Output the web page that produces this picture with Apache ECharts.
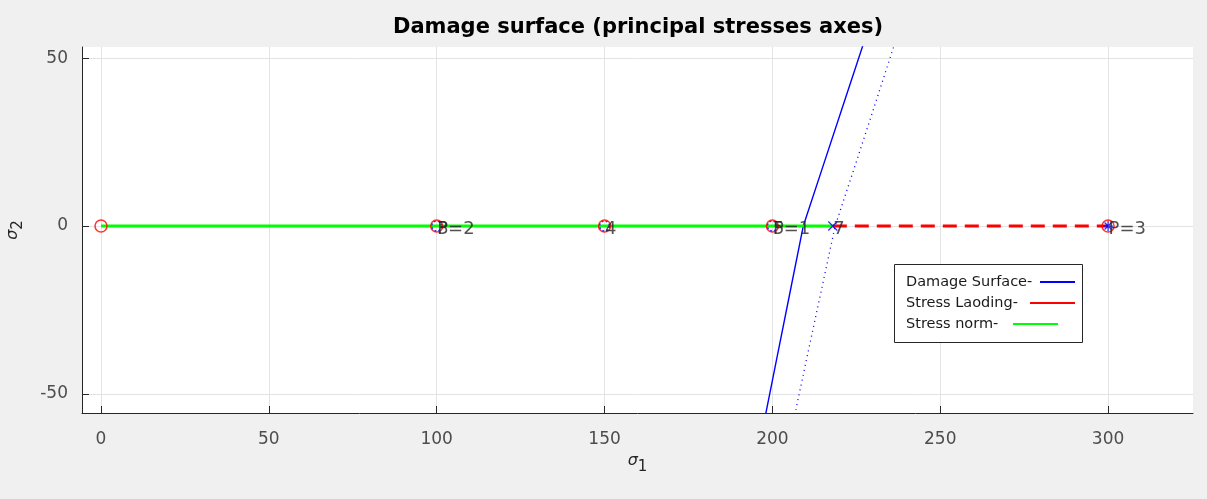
<!DOCTYPE html>
<html>
<head>
<meta charset="utf-8">
<script src="https://cdn.jsdelivr.net/npm/echarts@6/dist/echarts.min.js"></script>
<style>
html,body{margin:0;padding:0;background:#f0f0f0;}
#chart{width:1207px;height:499px;}
</style>
</head>
<body>
<div id="chart"></div>
<script>
// ---- data ----
const xTicks = [0, 50, 100, 150, 200, 250, 300];
const yTicks = [-50, 0, 50];
const normX = [0, 100, 150, 200, 218];
const normY = [0, 0, 0, 0, 0];
const loadX = [218, 300];
const loadY = [0, 0];
const surfY = [56, 40, 20, 0, -20, -40, -57];
const surfX = [227.7, 222.4, 215.8, 209.2, 205.2, 201.2, 197.8];
const surfOffX = [237.0, 231.8, 225.3, 218.7, 214.4, 210.1, 206.5];
const circleX = [0, 100, 150, 200, 300];
const blueCircleX = [100, 150, 200];
const crossX = [218];
const starX = [300];
const labelX = [100, 100, 150, 200, 200, 218, 300];
const labelText = ['P=2', '3', '4', 'P=1', '5', '7', 'P=3'];
const legendNames = ['Damage Surface-', 'Stress Laoding-', 'Stress norm-'];
const legendColors = ['#0000ff', '#ff0000', '#00ff00'];

const zip = (xs, ys) => xs.map((x, i) => [x, ys[i]]);
const onZero = xs => xs.map(x => [x, 0]);

const chart = echarts.init(document.getElementById('chart'), null, {renderer: 'canvas'});
const FONT = '"DejaVu Sans", Verdana, sans-serif';

const legendGraphics = [
  {type: 'rect', shape: {x: 894.5, y: 264.5, width: 188, height: 78}, style: {fill: '#ffffff', stroke: '#262626', lineWidth: 1}, z: 100}
];
const legendTextY = [282, 303, 324];
const legendLineX = [[1040, 1075], [1030, 1075], [1013, 1058]];
legendNames.forEach((n, i) => {
  legendGraphics.push({type: 'text', x: 906, y: legendTextY[i], style: {text: n, font: '14.5px "DejaVu Sans", sans-serif', fill: '#1a1a1a', textVerticalAlign: 'middle'}, z: 101});
  legendGraphics.push({type: 'line', shape: {x1: legendLineX[i][0], y1: legendTextY[i], x2: legendLineX[i][1], y2: legendTextY[i]}, style: {stroke: legendColors[i], lineWidth: 2.2}, z: 101});
});

const option = {
  backgroundColor: '#f0f0f0',
  animation: false,
  grid: {left: 82, right: 14, top: 47, bottom: 86, show: true, backgroundColor: '#ffffff', borderWidth: 0, outerBoundsMode: 'none', containLabel: false},
  graphic: [
    {type: 'text', x: 638, y: 28, style: {text: 'Damage surface (principal stresses axes)', font: 'bold 21px ' + FONT, fill: '#000000', textAlign: 'center', textVerticalAlign: 'middle'}}
  ].concat(legendGraphics),
  xAxis: {
    type: 'value', min: -5.66, max: 325.3,
    name: '{s|σ}{b|1}', nameLocation: 'middle', nameGap: 34,
    nameTextStyle: {rich: {s: {fontSize: 16, fontFamily: FONT, color: '#262626', fontStyle: 'italic'}, b: {fontSize: 15, fontFamily: FONT, color: '#262626', padding: [12, 0, 0, 0]}}},
    axisLine: {show: true, onZero: false, lineStyle: {color: '#262626', width: 1}},
    axisTick: {show: true, inside: true, length: 7, customValues: xTicks, lineStyle: {color: '#262626'}},
    axisLabel: {customValues: xTicks, fontSize: 17, color: '#4d4d4d', fontFamily: FONT, margin: 18},
    splitLine: {show: true, lineStyle: {color: '#e3e3e3', width: 1}}
  },
  yAxis: {
    type: 'value', min: -55.65, max: 53.3,
    name: '{s|σ}{b|2}', nameLocation: 'middle', nameGap: 56, nameRotate: 90,
    nameTextStyle: {rich: {s: {fontSize: 16, fontFamily: FONT, color: '#262626', fontStyle: 'italic'}, b: {fontSize: 15, fontFamily: FONT, color: '#262626', padding: [12, 0, 0, 0]}}},
    axisLine: {show: true, onZero: false, lineStyle: {color: '#262626', width: 1}},
    axisTick: {show: true, inside: true, length: 7, customValues: yTicks, lineStyle: {color: '#262626'}},
    axisLabel: {customValues: yTicks, fontSize: 17, color: '#4d4d4d', fontFamily: FONT, margin: 14},
    splitLine: {show: true, lineStyle: {color: '#e3e3e3', width: 1}}
  },
  series: [
    {type: 'line', data: zip(surfOffX, surfY), symbol: 'none', lineStyle: {color: '#0000ff', width: 1.3, type: [1, 4]}, z: 3},
    {type: 'line', data: zip(surfX, surfY), symbol: 'none', lineStyle: {color: '#0000ff', width: 1.4}, z: 3},
    {type: 'line', data: zip(loadX, loadY), symbol: 'none', lineStyle: {color: '#ff0000', width: 3, type: [14, 8]}, z: 4},
    {type: 'line', data: zip(normX, normY), symbol: 'none', lineStyle: {color: '#00ff00', width: 3}, z: 5},
    {type: 'scatter', data: onZero(blueCircleX), symbol: 'circle', symbolSize: 10, itemStyle: {color: 'none', borderColor: '#0000ff', borderWidth: 1.5, borderType: [2, 2]}, z: 6},
    {type: 'scatter', data: onZero(circleX), symbol: 'circle', symbolSize: 12, itemStyle: {color: 'none', borderColor: '#ff0000', borderWidth: 1.5}, z: 7},
    {type: 'scatter', data: onZero(crossX), symbol: 'path://M0,0L10,10M0,10L10,0', symbolSize: 9, itemStyle: {color: 'none', borderColor: '#0000ff', borderWidth: 1.3}, z: 8},
    {type: 'scatter', data: onZero(starX), symbol: 'path://M5,0L5,10M0,5L10,5M1.5,1.5L8.5,8.5M1.5,8.5L8.5,1.5', symbolSize: 10, itemStyle: {color: 'none', borderColor: '#0000ff', borderWidth: 1.3}, z: 8},
    {type: 'scatter', data: labelX.map((x, i) => ({value: [x, 0], name: labelText[i]})), symbol: 'circle', symbolSize: 1,
      itemStyle: {color: 'rgba(0,0,0,0)'},
      label: {show: true, position: 'right', distance: 0, offset: [0, 3], formatter: p => p.name, fontSize: 18, fontFamily: FONT, color: '#262626'}, z: 9}
  ]
};
chart.setOption(option);
</script>
</body>
</html>
